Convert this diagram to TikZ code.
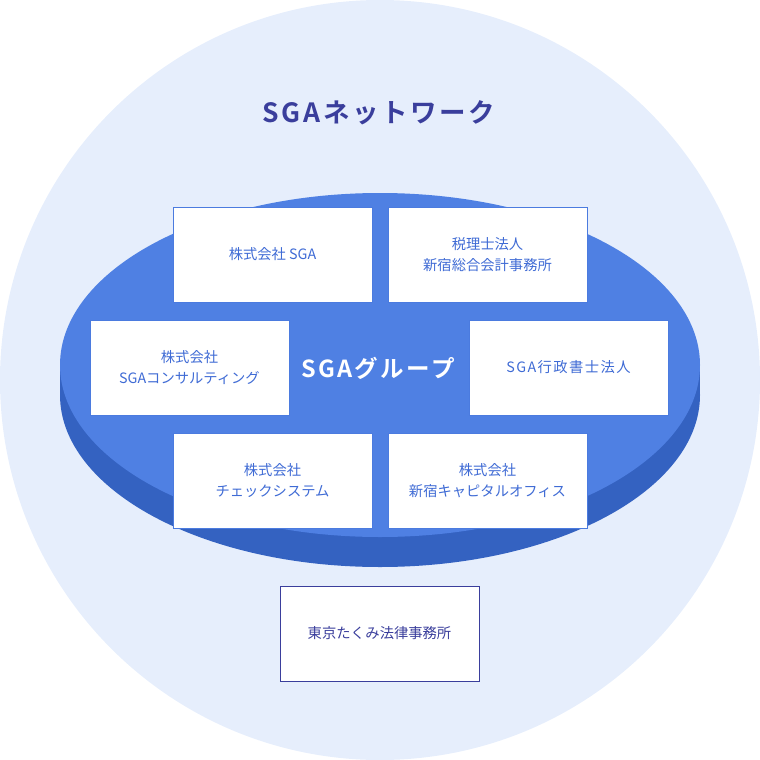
\documentclass[tikz,border=0pt]{standalone}
\usepackage{fontspec}
\setmainfont{Noto Sans CJK JP}
\newfontfamily\jpfont{Noto Sans CJK JP}
\newfontfamily\jpspaced[LetterSpace=10]{Noto Sans CJK JP}
\newfontfamily\jpboldspaced[LetterSpace=10]{Noto Sans CJK JP Bold}
\definecolor{bgcircle}{HTML}{E6EEFC}
\definecolor{diskTop}{HTML}{4F80E3}
\definecolor{diskSide}{HTML}{3462C1}
\definecolor{navy}{HTML}{3A3E9C}
\definecolor{boxtext}{HTML}{3F6BD5}
\definecolor{boxline}{HTML}{4B7BDF}
\begin{document}
\begin{tikzpicture}[x=1pt,y=-1pt,
  member/.style={draw=boxline,line width=1pt,fill=white,minimum width=199pt,minimum height=95pt,inner sep=0pt,
    align=center,font=\jpfont\fontsize{14.3}{21}\selectfont,text=boxtext},
  outer/.style={member,draw=navy,text=navy}]
\useasboundingbox (0,0) rectangle (760,760);
\fill[bgcircle] (380,380) circle[radius=380];
% disk
\fill[diskSide] (380,395) ellipse[x radius=320,y radius=172];
\fill[diskSide] (60,365) rectangle (700,395);
\fill[diskTop] (380,365) ellipse[x radius=320,y radius=172];
% titles
\node[font=\jpboldspaced\fontsize{26.5}{30}\selectfont,text=navy] (title) at (379,113) {SGAネットワーク};
\node[font=\jpboldspaced\fontsize{23.5}{26}\selectfont,text=white] (group) at (378,368) {SGAグループ};
% members
\node[member] (sga) at (272.5,254.5) {株式会社 SGA};
\node[member] (tax) at (487.5,254.5) {税理士法人\\新宿総合会計事務所};
\node[member] (cons) at (189.5,367.5) {株式会社\\SGAコンサルティング};
\node[member,font=\jpspaced\fontsize{14.3}{21}\selectfont] (gyosei) at (568.5,367.5) {SGA行政書士法人};
\node[member] (check) at (272.5,480.5) {株式会社\\チェックシステム};
\node[member] (capital) at (487.5,480.5) {株式会社\\新宿キャピタルオフィス};
\node[outer] (law) at (379.5,633.5) {東京たくみ法律事務所};
\end{tikzpicture}
\end{document}
